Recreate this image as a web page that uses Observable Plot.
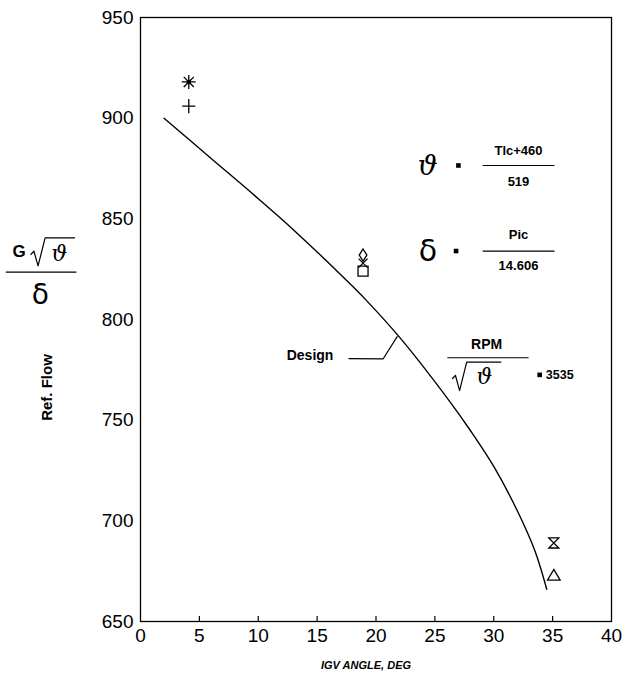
<!DOCTYPE html>
<html>
<head>
<meta charset="utf-8">
<script src="https://cdn.jsdelivr.net/npm/d3@7"></script>
<script src="https://cdn.jsdelivr.net/npm/@observablehq/plot@0.6"></script>
<style>
  body { margin: 0; background: white; }
</style>
</head>
<body>
<div id="chart"></div>
<script>
// ---- data ----
const xTicks = [0, 5, 10, 15, 20, 25, 30, 35, 40];
const yTicks = [650, 700, 750, 800, 850, 900, 950];

// Design curve
const designAngle = [2, 6, 10, 13, 17.4, 19.1, 22.1, 26.3, 28, 30, 32, 33.5, 34.5];
const designFlow  = [900, 880, 860, 844.5, 820, 810, 790.5, 759, 745, 727, 705, 685, 666];

// test points
const markerNames = ["asterisk", "plus", "diamond", "times", "square", "hourglass", "triangle"];
const markerAngle = [4.1, 4.1, 18.9, 18.9, 18.9, 35.1, 35.1];
const markerFlow  = [918, 906, 832, 828, 824, 689, 673];

// texts
const axisTitleX = "IGV ANGLE, DEG";
const axisTitleY = "Ref. Flow";
const thetaFracTop = "Tlc+460", thetaFracBottom = "519";
const deltaFracTop = "Pic", deltaFracBottom = "14.606";
const rpmTop = "RPM", rpmValue = "3535";
const designLabel = "Design";

// ---- layout of annotations (data units) ----
const font = "'Liberation Sans', Arial, sans-serif";
const serif = "'DejaVu Serif', serif";
const sans = "'DejaVu Sans', sans-serif";
const texts = [
  {t: "ϑ", x: 24.4, y: 876, size: 28, fam: serif, style: "italic", w: "normal"},
  {t: thetaFracTop, x: 32.1, y: 884, size: 13, w: "bold", ls: 1},
  {t: thetaFracBottom, x: 32.1, y: 868.5, size: 13, w: "bold", ls: 1},
  {t: "δ", x: 24.4, y: 834, size: 30, fam: sans, w: "normal"},
  {t: deltaFracTop, x: 32.1, y: 842, size: 13, w: "bold", ls: 1},
  {t: deltaFracBottom, x: 32.1, y: 826.5, size: 13, w: "bold", ls: 1},
  {t: rpmTop, x: 29.4, y: 787.5, size: 14, w: "bold", ls: 1.5},
  {t: "ϑ", x: 29.2, y: 771.5, size: 22, fam: serif, style: "italic", w: "normal"},
  {t: rpmValue, x: 35.6, y: 772.5, size: 12.5, w: "bold", ls: 1},
  {t: designLabel, x: 14.4, y: 782, size: 14, w: "bold", ls: 1.8},
  {t: "G", x: -10.3, y: 833.7, size: 17, w: "bold"},
  {t: "ϑ", x: -6.9, y: 832.8, size: 22, fam: serif, style: "italic", w: "normal"},
  {t: "δ", x: -8.5, y: 812, size: 28, fam: sans, w: "normal"}
];
const eqSigns = [{x: 27.0, y: 876.5}, {x: 26.8, y: 834}, {x: 33.9, y: 772.5}];
const bars = [
  {x1: 29.1, x2: 35.2, y: 876.5},
  {x1: 29.1, x2: 35.2, y: 834},
  {x1: 26.1, x2: 33.0, y: 781},
  {x1: -11.4, x2: -5.4, y: 823.5}
];
const radicals = [
  [{x: 26.5, y: 770.7}, {x: 26.75, y: 772.2}, {x: 27.1, y: 764.7}, {x: 27.7, y: 778.8}, {x: 30.6, y: 778.8}],
  [{x: -9.3, y: 832.4}, {x: -9.05, y: 833.9}, {x: -8.7, y: 826.6}, {x: -8.1, y: 840.5}, {x: -5.6, y: 840.5}]
];
const leader = [{x: 17.7, y: 780.6}, {x: 20.6, y: 780.4}, {x: 21.8, y: 791.5}];

// ---- build ----
const hourglass = {
  draw(ctx, size) {
    const r = Math.sqrt(size) / 2;
    ctx.moveTo(-r, -r); ctx.lineTo(r, -r); ctx.lineTo(-r, r); ctx.lineTo(r, r); ctx.closePath();
  }
};
const star8 = {
  draw(ctx, size) {
    const r = Math.sqrt(size) / 2, d = r * 0.72;
    ctx.moveTo(-r, 0); ctx.lineTo(r, 0);
    ctx.moveTo(0, -r); ctx.lineTo(0, r);
    ctx.moveTo(-d, -d); ctx.lineTo(d, d);
    ctx.moveTo(-d, d); ctx.lineTo(d, -d);
  }
};
const plusThin = {
  draw(ctx, size) {
    const r = Math.sqrt(size) / 2;
    ctx.moveTo(-r, 0); ctx.lineTo(r, 0);
    ctx.moveTo(0, -r * 1.1); ctx.lineTo(0, r * 1.1);
  }
};
const diamondTall = {
  draw(ctx, size) {
    const r = Math.sqrt(size) / 2;
    ctx.moveTo(0, -r * 1.35); ctx.lineTo(r * 0.85, 0); ctx.lineTo(0, r * 1.35); ctx.lineTo(-r * 0.85, 0); ctx.closePath();
  }
};
const crossX = {
  draw(ctx, size) {
    const r = Math.sqrt(size) / 2;
    ctx.moveTo(-r, -r); ctx.lineTo(r, r);
    ctx.moveTo(-r, r); ctx.lineTo(r, -r);
  }
};
const squareOpen = {
  draw(ctx, size) {
    const r = Math.sqrt(size) / 2;
    ctx.rect(-r, -r, 2 * r, 2 * r);
  }
};
const triangleOpen = {
  draw(ctx, size) {
    const r = Math.sqrt(size) / 2;
    ctx.moveTo(0, -r * 1.05); ctx.lineTo(r * 1.15, r * 0.9); ctx.lineTo(-r * 1.15, r * 0.9); ctx.closePath();
  }
};
const symbolFor = {asterisk: star8, plus: plusThin, diamond: diamondTall, times: crossX, square: squareOpen, hourglass: hourglass, triangle: triangleOpen};
const sizeFor = {asterisk: 14, plus: 13, diamond: 9, times: 9, square: 10, hourglass: 10, triangle: 11};
const points = markerNames.map((n, i) => ({name: n, angle: markerAngle[i], flow: markerFlow[i]}));
const design = designAngle.map((a, i) => ({angle: a, flow: designFlow[i]}));

const plot = Plot.plot({
  width: 624,
  height: 680,
  marginLeft: 140,
  marginRight: 13,
  marginTop: 17,
  marginBottom: 59,
  style: {fontFamily: font, background: "white", color: "black"},
  x: {domain: [0, 40]},
  y: {domain: [650, 950]},
  marks: [
    Plot.frame({stroke: "black", strokeWidth: 1.3}),
    Plot.axisX({ticks: xTicks, tickSize: 0, tickPadding: 7, fontSize: 19, label: null}),
    Plot.axisY({ticks: yTicks, tickSize: 0, tickPadding: 7, fontSize: 19, label: null}),
    Plot.ruleX(xTicks.slice(1, -1), {y1: 650, y2: 652.5, stroke: "black", strokeWidth: 1.2}),
    Plot.text([axisTitleX], {frameAnchor: "bottom", dy: 47, dx: -10, fontSize: 11, fontWeight: "bold", fontStyle: "italic", style: "letter-spacing:1.6px"}),
    Plot.text([axisTitleY], {frameAnchor: "left", textAnchor: "middle", dx: -93, dy: 68, rotate: -90, fontSize: 15, fontWeight: "bold"}),
    Plot.line(design, {x: "angle", y: "flow", stroke: "black", strokeWidth: 1.4, curve: "catmull-rom"}),
    Plot.line(leader, {x: "x", y: "y", stroke: "black", strokeWidth: 1.2}),
    ...radicals.map(r => Plot.line(r, {x: "x", y: "y", stroke: "black", strokeWidth: 1.2, clip: false})),
    Plot.ruleY(bars, {x1: "x1", x2: "x2", y: "y", stroke: "black", strokeWidth: 1.2}),
    Plot.dot(eqSigns, {x: "x", y: "y", symbol: "square", r: 2.6, fill: "black"}),
    ...texts.map(d => Plot.text([d], {
      x: "x", y: "y", text: "t", fontSize: d.size, fontWeight: d.w,
      fontFamily: d.fam || font, fontStyle: d.style || "normal",
      style: d.ls ? `letter-spacing:${d.ls}px` : undefined, lineAnchor: "middle"
    })),
    ...points.map(p => Plot.dot([p], {x: "angle", y: "flow", symbol: () => symbolFor[p.name], r: sizeFor[p.name] / 1.77, stroke: "black", strokeWidth: 1.3, fill: "none"})),
    Plot.dot([points[0]], {x: "angle", y: "flow", r: 2.2, fill: "black"})
  ]
});
document.getElementById("chart").appendChild(plot);
</script>
</body>
</html>
